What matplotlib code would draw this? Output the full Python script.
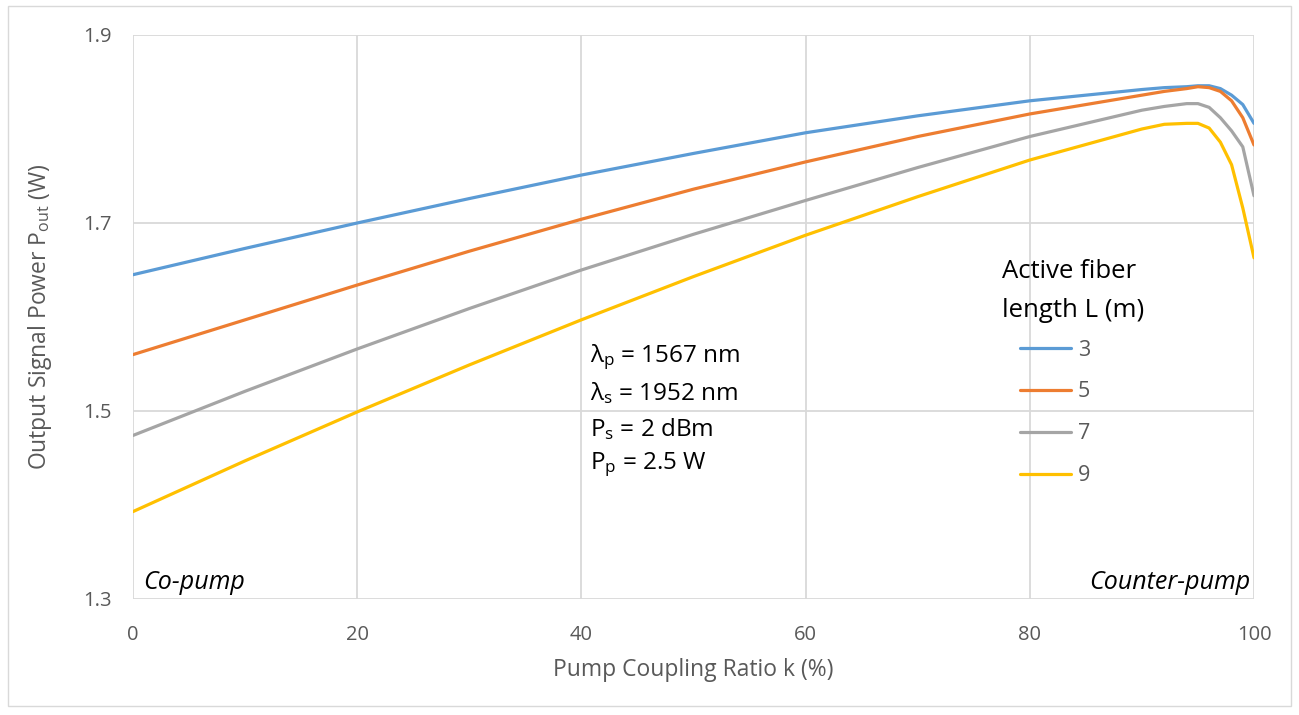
import matplotlib
matplotlib.use("Agg")
import matplotlib.pyplot as plt
from matplotlib.patches import Rectangle

plt.rcParams['font.family'] = ['Open Sans', 'DejaVu Sans']
plt.rcParams['mathtext.fontset'] = 'custom'
plt.rcParams['mathtext.rm'] = 'Open Sans'
plt.rcParams['mathtext.it'] = 'Open Sans:italic'

k = [0, 10, 20, 30, 40, 50, 60, 70, 80, 90, 92, 94, 95, 96, 97, 98, 99, 100]
p_L3 = [1.645, 1.673, 1.700, 1.726, 1.751, 1.774, 1.796, 1.814, 1.830, 1.842, 1.844, 1.845, 1.846, 1.846, 1.843, 1.836, 1.826, 1.806]
p_L5 = [1.560, 1.597, 1.634, 1.670, 1.704, 1.736, 1.765, 1.792, 1.816, 1.836, 1.840, 1.843, 1.845, 1.844, 1.840, 1.830, 1.812, 1.783]
p_L7 = [1.474, 1.521, 1.566, 1.609, 1.650, 1.688, 1.724, 1.759, 1.792, 1.820, 1.824, 1.827, 1.827, 1.823, 1.812, 1.798, 1.781, 1.729]
p_L9 = [1.393, 1.447, 1.499, 1.549, 1.597, 1.643, 1.687, 1.728, 1.767, 1.800, 1.805, 1.806, 1.806, 1.801, 1.786, 1.762, 1.716, 1.663]
series = [("3", p_L3, "#5B9BD5"), ("5", p_L5, "#ED7D31"),
          ("7", p_L7, "#A5A5A5"), ("9", p_L9, "#FFC000")]

xticks = [0, 20, 40, 60, 80, 100]
yticks = [1.3, 1.5, 1.7, 1.9]
params = ["λ$_{\\mathrm{p}}$ = 1567 nm", "λ$_{\\mathrm{s}}$ = 1952 nm",
          "P$_{\\mathrm{s}}$ = 2 dBm", "P$_{\\mathrm{p}}$ = 2.5 W"]
legend_title = ["Active fiber", "length L (m)"]

fig = plt.figure(figsize=(12.99, 7.15), dpi=100)
ax = fig.add_axes([133/1299, 1-599/715, (1254-133)/1299, (599-35)/715])

for lab, vals, col in series:
    ax.plot(k, vals, color=col, lw=2.3, label=lab, solid_capstyle='round')

ax.set_xlim(0, 100)
ax.set_ylim(1.3, 1.9)
ax.set_xticks(xticks)
ax.set_yticks(yticks)
ax.set_yticklabels([f"{v:.1f}" for v in yticks])
ax.grid(True, color="#D9D9D9", lw=1.3)
ax.set_axisbelow(True)
for s in ax.spines.values():
    s.set_visible(False)
ax.tick_params(length=0, labelsize=14.5, colors="#595959")
ax.tick_params(axis='x', pad=19)
ax.tick_params(axis='y', pad=15)

ax.set_xlabel("Pump Coupling Ratio k (%)", fontsize=16.5, color="#595959", labelpad=9)
ax.set_ylabel(r"Output Signal Power P$_{\mathrm{out}}$ (W)", fontsize=16.5, color="#595959", labelpad=21)

leg = ax.legend(loc="upper left",
                bbox_to_anchor=(0.791, 0.46), frameon=False, fontsize=15.5,
                handlelength=2.4, labelspacing=0.97,
                handletextpad=0.3, borderpad=0, borderaxespad=0)
for t in leg.get_texts():
    t.set_color("#595959")

for i, line in enumerate(legend_title):
    ax.text(0.775, 0.580 - i * 0.069, line, transform=ax.transAxes, fontsize=18.5,
            va="center", ha="left")

for i, line in enumerate(params):
    ax.text(0.408, 0.429 - i * 0.0635, line, transform=ax.transAxes, fontsize=17.5,
            va="center", ha="left")

ax.text(0.009, 0.03, "Co-pump", transform=ax.transAxes, fontsize=18, style="italic", ha="left", va="center")
ax.text(0.997, 0.03, "Counter-pump", transform=ax.transAxes, fontsize=18, style="italic", ha="right", va="center")

fig.patches.append(Rectangle((8/1299, 1-706/715), (1291-8)/1299, (706-6)/715,
                             transform=fig.transFigure, fill=False, ec="#D9D9D9", lw=1))

fig.savefig("out.png", dpi=100)
